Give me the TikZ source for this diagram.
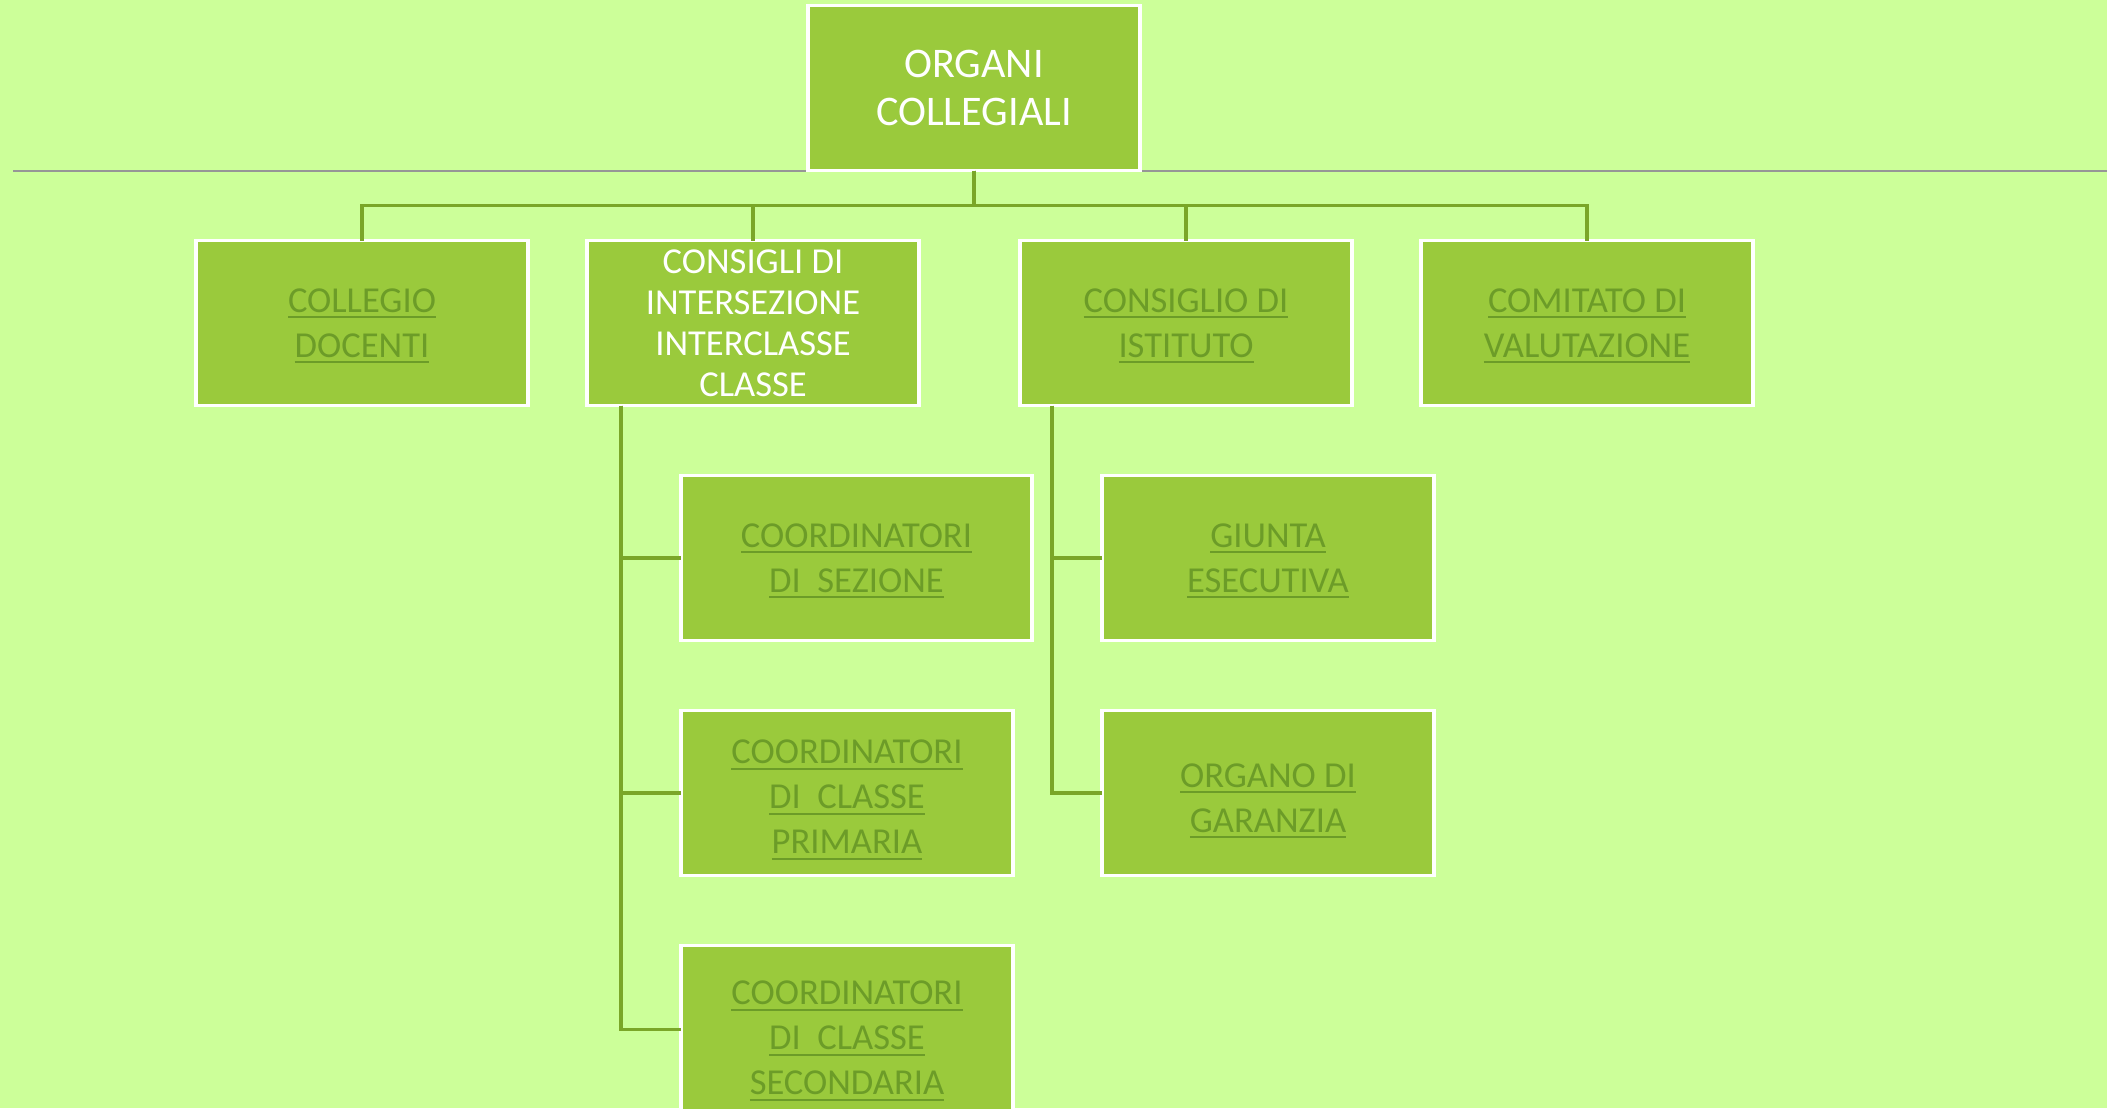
\documentclass[tikz,border=0pt]{standalone}
\definecolor{bggreen}{RGB}{204,255,153}
\definecolor{boxgreen}{RGB}{154,202,60}
\definecolor{linkgreen}{RGB}{108,156,40}
\definecolor{linegreen}{RGB}{122,166,40}
\definecolor{rulegray}{RGB}{150,150,150}
\usepackage{fontspec}
\setmainfont{Carlito}
\usepackage{tikz}
\usetikzlibrary{positioning,calc,backgrounds}
\newcommand{\lnk}[1]{\setbox0\hbox{#1}\rlap{\smash{\vrule height -1.1pt depth 1.7pt width \wd0}}\box0}
\newcommand{\tall}[2]{\raisebox{0pt}[#1][0pt]{#2}}

\begin{document}
\begin{tikzpicture}[
        box/.style={rectangle, draw=white, line width=1pt, outer sep=0pt, fill=boxgreen, minimum width=3.32cm, minimum height=1.65cm, align=center, inner sep=2pt, text=linkgreen, font=\fontsize{10.4}{12.8}\selectfont},
        link/.style={linegreen, line width=1pt},
        hrule/.style={rulegray, line width=0.7pt}
    ]
        \useasboundingbox (0,0) rectangle (21.07,-11.08);

        \node[box, text=white, font=\fontsize{12}{13.4}\selectfont] (org) at (9.74,-0.88) {ORGANI\\COLLEGIALI};

        \node[box, below=0.7cm of org, xshift=-6.12cm] (coll) {\lnk{COLLEGIO}\\\lnk{DOCENTI}};
        \node[box, right=0.59cm of coll, text=white, font=\fontsize{10.4}{11.7}\selectfont] (cons) {CONSIGLI DI\\INTERSEZIONE\\INTERCLASSE\\CLASSE};
        \node[box, right=1.01cm of cons] (ist) {\lnk{CONSIGLIO DI}\\\lnk{ISTITUTO}};
        \node[box, right=0.69cm of ist] (com) {\lnk{COMITATO DI}\\\lnk{VALUTAZIONE}};

        \node[box, minimum width=3.51cm, below=0.7cm of cons.south west, anchor=north west, xshift=0.94cm] (sez) {\lnk{COORDINATORI}\\\lnk{DI~~SEZIONE}};
        \node[box, below=0.7cm of sez.south west, anchor=north west] (prim) {\tall{9pt}{\lnk{COORDINATORI}}\\\lnk{DI~~CLASSE}\\\lnk{PRIMARIA}};
        \node[box, minimum height=1.68cm, below=0.7cm of prim.south west, anchor=north west] (sec) {\tall{11.7pt}{\lnk{COORDINATORI}}\\\lnk{DI~~CLASSE}\\\lnk{SECONDARIA}};

        \node[box, below=0.7cm of ist.south west, anchor=north west, xshift=0.82cm] (giu) {\lnk{GIUNTA}\\\lnk{ESECUTIVA}};
        \node[box, below=0.7cm of giu.south west, anchor=north west] (gar) {\tall{9.5pt}{\lnk{ORGANO DI}}\\\lnk{GARANZIA}};

        % page colour and the grey rule behind the top box
        \begin{scope}[on background layer]
            \fill[bggreen] (0,0) rectangle (21.07,-11.08);
            \coordinate (rulel) at (0.13,-1.71);
            \coordinate (ruler) at (21.07,-1.71);
            \draw[hrule] (rulel) -- (ruler);
        \end{scope}

        \foreach \n in {coll,cons,ist,com}
            \draw[link] (org.south) -- ++(0,-0.35) -| (\n.north);
        \foreach \n in {sez,prim,sec}
            \draw[link] ([xshift=0.34cm]cons.south west) |- (\n.west);
        \foreach \n in {giu,gar}
            \draw[link] ([xshift=0.32cm]ist.south west) |- (\n.west);
    \end{tikzpicture}
\end{document}
